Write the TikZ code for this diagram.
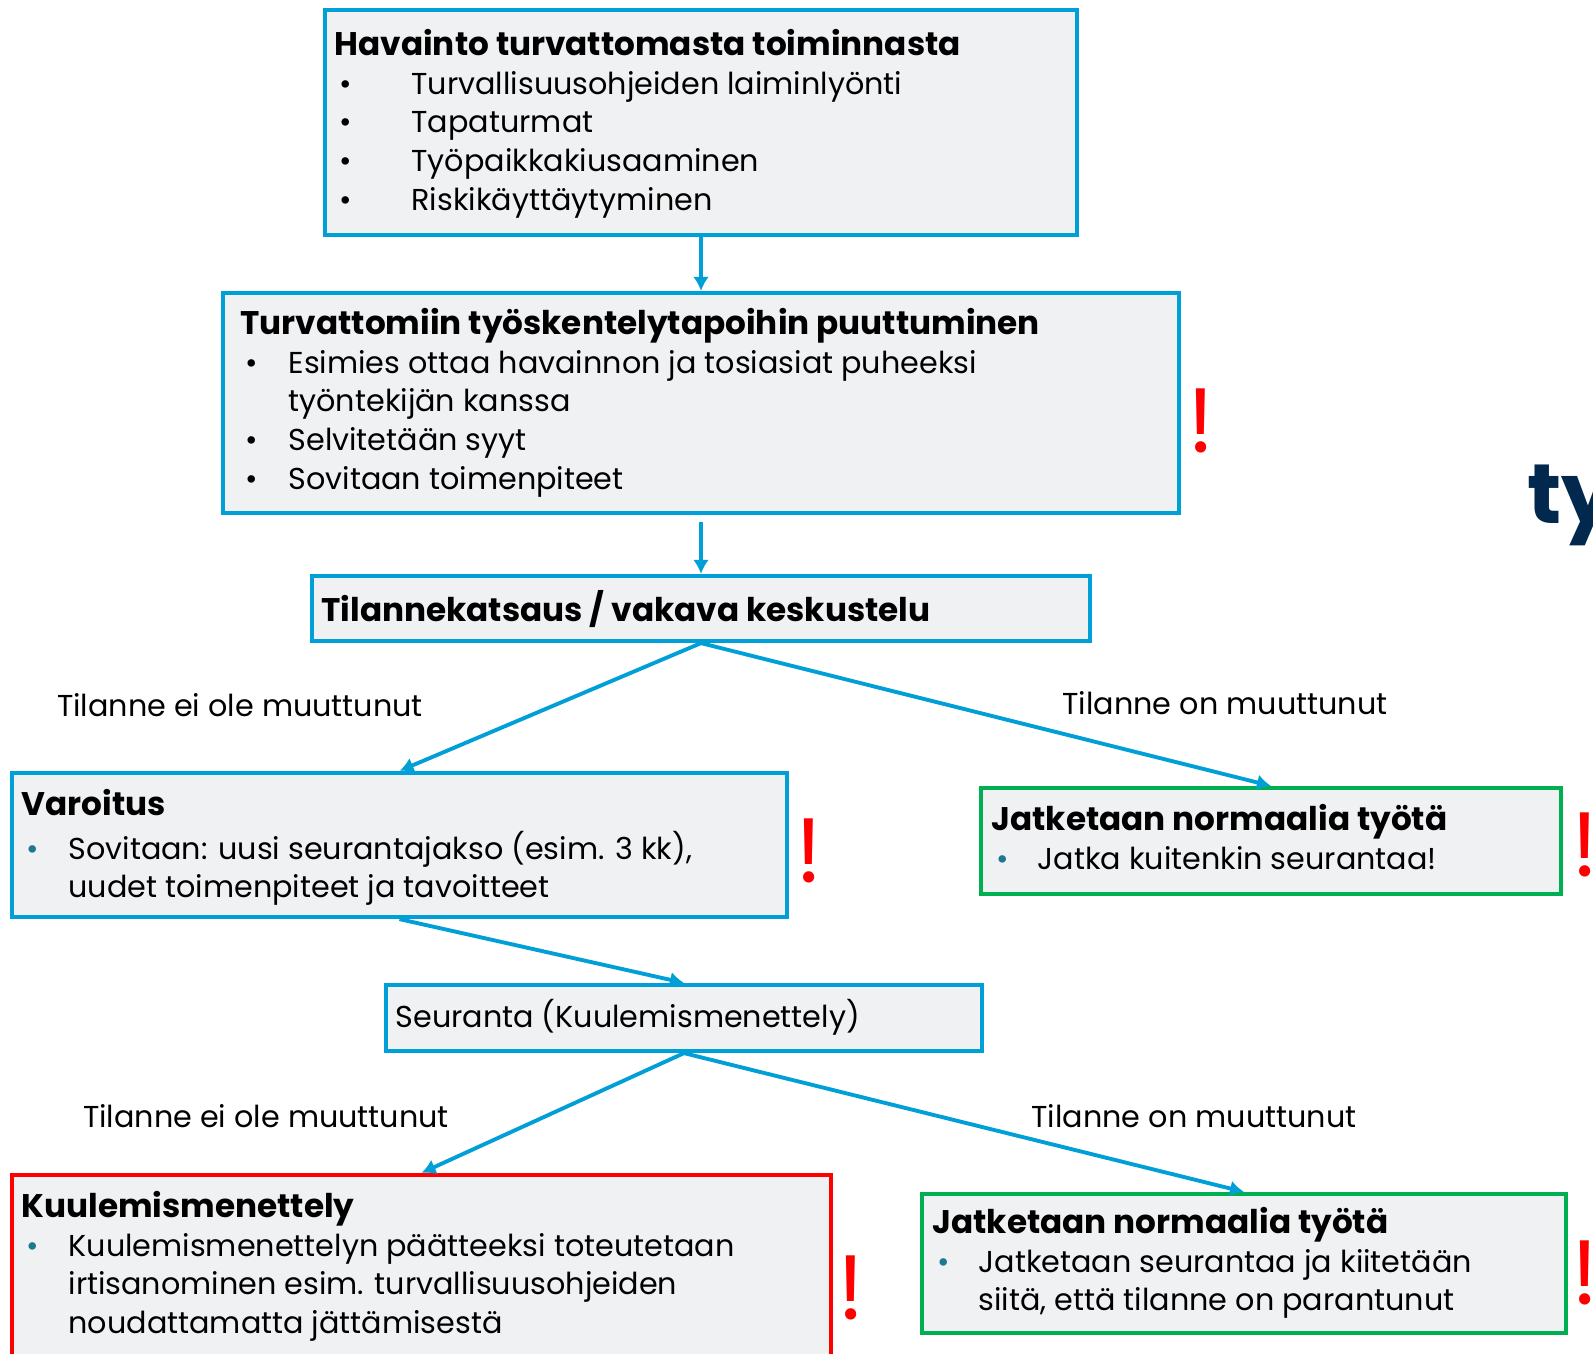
\documentclass[tikz,border=0pt]{standalone}
\usepackage{fontspec}
\setmainfont{Poppins}
\usetikzlibrary{positioning,arrows.meta}
\definecolor{sininen}{RGB}{0,159,215}
\definecolor{tausta}{RGB}{240,241,243}
\definecolor{vihrea}{RGB}{0,176,80}
\definecolor{punainen}{RGB}{255,0,0}
\definecolor{tumma}{RGB}{2,40,77}
\definecolor{pallo}{RGB}{30,120,145}
\newcommand{\kohta}[3][black]{\makebox[#2][l]{\hspace{0.05cm}\textcolor{#1}{\textbullet}}#3}
\newcommand{\jatko}[2]{\hspace*{#1}#2}
\newcommand{\otsikko}[1]{{\fontsize{9.3}{11}\selectfont\bfseries #1}}
\tikzset{
  box/.style={draw=sininen, fill=tausta, line width=1.2pt, inner sep=0pt},
  okbox/.style={box, draw=vihrea},
  stopbox/.style={box, draw=punainen},
  nuoli/.style={sininen, line width=1.1pt, -{Latex[length=4pt, width=4.5pt]}},
  teksti/.style={inner sep=0pt, align=left, font=\fontsize{8.6}{11}\selectfont},
  huom/.style={text=punainen, anchor=base, inner sep=0pt, font=\fontsize{26}{26}\selectfont}
}
\begin{document}
\begin{tikzpicture}
\clip (0,0) rectangle (15.93,-13.54);
\fill[white] (0,0) rectangle (15.93,-13.54);

% laatikot
\node[box, minimum width=7.52cm, minimum height=2.25cm] (havainto) at (7.01,-1.225) {};
\node[box, minimum width=9.56cm, minimum height=2.20cm] (puuttuminen) at (7.01,-4.03) {};
\node[box, minimum width=7.78cm, minimum height=0.65cm] (katsaus) at (7.01,-6.085) {};
\node[box, minimum width=7.75cm, minimum height=1.44cm] (varoitus) at (3.995,-8.45) {};
\node[okbox, minimum width=5.80cm, minimum height=1.06cm] (jatka1) at (12.71,-8.41) {};
\node[box, minimum width=5.96cm, minimum height=0.66cm] (seuranta) at (6.84,-10.18) {};
\node[stopbox, minimum width=8.19cm, minimum height=2.00cm] (kuulemis) at (4.215,-12.75) {};
\node[okbox, minimum width=6.44cm, minimum height=1.39cm] (jatka2) at (12.44,-12.635) {};

% tekstit
\node[teksti, below right=0.20cm and 0.11cm of havainto.north west] (havainto-t)
  {\strut\otsikko{Havainto turvattomasta toiminnasta}\\
   \kohta{0.77cm}{Turvallisuusohjeiden laiminlyönti}\\
   \kohta{0.77cm}{Tapaturmat}\\
   \kohta{0.77cm}{Työpaikkakiusaaminen}\\
   \kohta{0.77cm}{Riskikäyttäytyminen}};
\node[teksti, below right=0.16cm and 0.19cm of puuttuminen.north west] (puuttuminen-t)
  {\strut\otsikko{Turvattomiin työskentelytapoihin puuttuminen}\\
   \kohta{0.48cm}{Esimies ottaa havainnon ja tosiasiat puheeksi}\\
   \jatko{0.48cm}{työntekijän kanssa}\\
   \kohta{0.48cm}{Selvitetään syyt}\\
   \kohta{0.48cm}{Sovitaan toimenpiteet}};
\node[teksti, below right=0.16cm and 0.11cm of katsaus.north west] (katsaus-t)
  {\strut\otsikko{Tilannekatsaus / vakava keskustelu}};
\node[teksti, below right=0.17cm and 0.11cm of varoitus.north west] (varoitus-t)
  {\strut\otsikko{Varoitus}\\
   \kohta[pallo]{0.47cm}{Sovitaan: uusi seurantajakso (esim. 3 kk),}\\
   \jatko{0.47cm}{uudet toimenpiteet ja tavoitteet}};
\node[teksti, below right=0.17cm and 0.12cm of jatka1.north west] (jatka1-t)
  {\strut\otsikko{Jatketaan normaalia työtä}\\
   \kohta[pallo]{0.46cm}{Jatka kuitenkin seurantaa!}};
\node[teksti, below right=0.16cm and 0.11cm of seuranta.north west] (seuranta-t)
  {\strut Seuranta (Kuulemismenettely)};
\node[teksti, below right=0.17cm and 0.11cm of kuulemis.north west] (kuulemis-t)
  {\strut\otsikko{Kuulemismenettely}\\
   \kohta[pallo]{0.47cm}{Kuulemismenettelyn päätteeksi toteutetaan}\\
   \jatko{0.47cm}{irtisanominen esim. turvallisuusohjeiden}\\
   \jatko{0.47cm}{noudattamatta jättämisestä}};
\node[teksti, below right=0.14cm and 0.12cm of jatka2.north west] (jatka2-t)
  {\strut\otsikko{Jatketaan normaalia työtä}\\
   \kohta[pallo]{0.46cm}{Jatketaan seurantaa ja kiitetään}\\
   \jatko{0.46cm}{siitä, että tilanne on parantunut}};

% nuolet
\draw[nuoli] (havainto.south) -- (puuttuminen.north);
\draw[nuoli, shorten <=2pt] (puuttuminen.south) -- (katsaus.north);
\draw[nuoli] (katsaus.south) -- (varoitus.north);
\draw[nuoli] (katsaus.south) -- (jatka1.north);
\draw[nuoli] (varoitus.south) -- (seuranta.north);
\draw[nuoli] (seuranta.south) -- (kuulemis.north);
\draw[nuoli] (seuranta.south) -- (jatka2.north);

% nuolten tekstit
\node[teksti] (ei1) at (2.40,-7.05) {Tilanne ei ole muuttunut};
\node[teksti] (on1) at (12.25,-7.03) {Tilanne on muuttunut};
\node[teksti] (ei2) at (2.66,-11.16) {Tilanne ei ole muuttunut};
\node[teksti] (on2) at (11.94,-11.16) {Tilanne on muuttunut};

% huomiomerkit
\node[huom] (huom1) at (12.01,-4.52) {!};
\node[huom] (huom2) at (8.09,-8.82) {!};
\node[huom] (huom3) at (15.85,-8.76) {!};
\node[huom] (huom4) at (8.51,-13.19) {!};
\node[huom] (huom5) at (15.85,-13.04) {!};

\node[anchor=base west, inner sep=0pt, text=tumma, font=\fontsize{24}{24}\selectfont\bfseries] (ty) at (15.27,-5.23) {ty};
\end{tikzpicture}
\end{document}
